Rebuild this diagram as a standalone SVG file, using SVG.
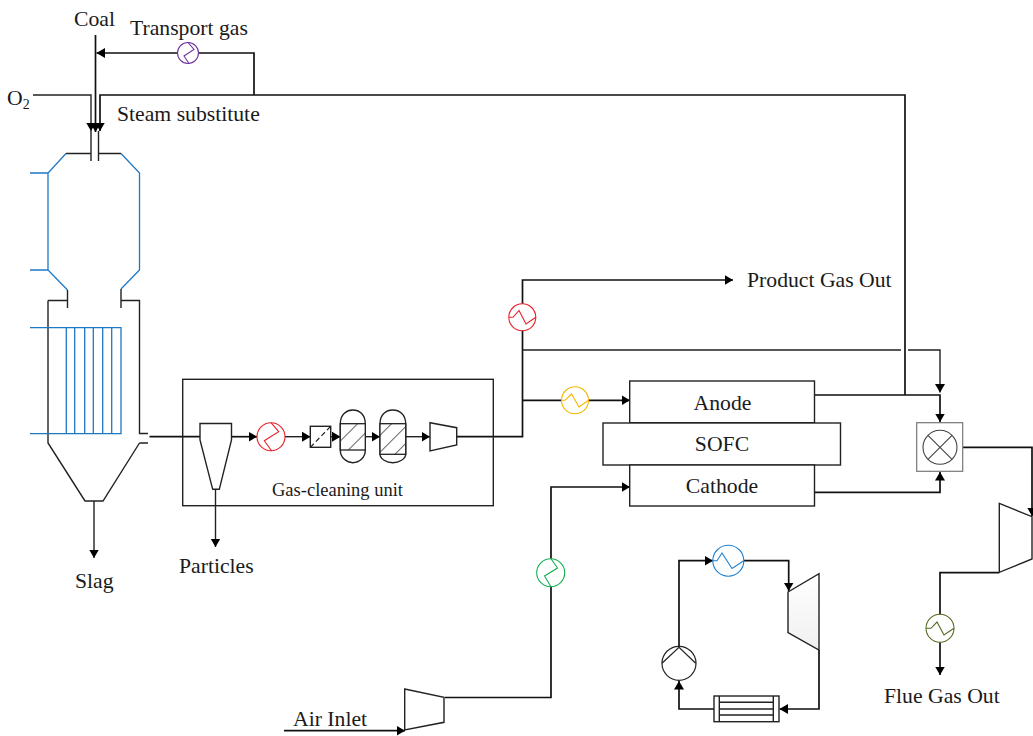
<svg xmlns="http://www.w3.org/2000/svg" width="1033" height="736" viewBox="0 0 1033 736">
<style>
text{font-family:"Liberation Serif","Times New Roman",serif;font-size:21.700px;fill:#1a1a1a}
.l{fill:none;stroke:#111;stroke-width:1.7}
.t{fill:none;stroke:#444;stroke-width:1.100}
.b{fill:none;stroke:#1f78c4;stroke-width:1.300}
.k{fill:none;stroke:#222;stroke-width:1.400}
.w{fill:#fff;stroke:#222;stroke-width:1.400}
.h{stroke-width:1.100}
</style>
<defs>
<marker id="arr" markerUnits="userSpaceOnUse" markerWidth="10" markerHeight="11" refX="8.500" refY="5" orient="auto"><path d="M0,0L8.500,5L0,10Z" fill="#000"/></marker>
<linearGradient id="tg" x1="0" y1="0" x2="0" y2="1"><stop offset="0" stop-color="#fff"/><stop offset="1" stop-color="#f0f0f0"/></linearGradient>
<pattern id="h1" patternUnits="userSpaceOnUse" width="12" height="12" patternTransform="rotate(45)"><rect width="12" height="12" fill="#fff"/><line x1="0" y1="0" x2="0" y2="12" stroke="#555" stroke-width="1.800"/></pattern>
</defs>
<g id="connectors">
<path class="l" d="M95.500 35V132" marker-end="url(#arr)"/>
<path class="l" d="M254 95V53H96.500" marker-end="url(#arr)"/>
<path class="l" d="M905 395V95H100V131" marker-end="url(#arr)"/>
<path class="k" d="M33 95H91V131" marker-end="url(#arr)"/>
<path class="l" d="M149.500 436.700H200"/>
<path class="l" d="M231.500 436.700H257" marker-end="url(#arr)"/>
<path class="k" d="M285 436.700H310.500" marker-end="url(#arr)"/>
<path class="k" d="M331 436.700H340.500" marker-end="url(#arr)"/>
<path class="k" d="M365.500 436.700H380" marker-end="url(#arr)"/>
<path class="k" d="M406 436.700H430" marker-end="url(#arr)"/>
<path class="l" d="M457 436.700H522.500V280H733" marker-end="url(#arr)"/>
<path class="k" d="M522.500 350H901M908 350H940V392.500" marker-end="url(#arr)"/>
<path class="l" d="M522.500 400.300H630" marker-end="url(#arr)"/>
<path class="l" d="M814.500 395H940V422" marker-end="url(#arr)"/>
<path class="l" d="M814.500 492.300H940V472" marker-end="url(#arr)"/>
<path class="l" d="M963 447.300H1032V516" marker-end="url(#arr)"/>
<path class="l" d="M999.300 572.700H940V675" marker-end="url(#arr)"/>
<path class="l" d="M445 697.500H551V487H630" marker-end="url(#arr)"/>
<path class="l" d="M284 730.700H405" marker-end="url(#arr)"/>
<path class="l" d="M679 648V560.700H713" marker-end="url(#arr)"/>
<path class="l" d="M744 560.700H788.700V591" marker-end="url(#arr)"/>
<path class="l" d="M819 650V709H779.500" marker-end="url(#arr)"/>
<path class="l" d="M714 709H679V681" marker-end="url(#arr)"/>
<path class="k" d="M94 501V558" marker-end="url(#arr)"/>
<path class="k" d="M215.500 489.500V547" marker-end="url(#arr)"/>
</g>
<g id="gasifier">
<path class="k" d="M91 131V161M98.500 131V161M66 153.500H91M98.500 153.500H121"/>
<path class="b" d="M66 153.500L48 173V270L67.500 290M121 153.500L139.500 173V270L121 289M30 173H48M30 270H48"/>
<path class="k" d="M67.500 290V308M121 289V308M48 300.500H67.500M121 300.500H139.500V433.500H148M139.500 443H148M48 300.500V443L85 501H103L139.500 443"/>
<path class="b" d="M30 327.700H121V433.700H30M66.300 327.700V433.700M74.700 327.700V433.700M84.700 327.700V433.700M93.300 327.700V433.700M102.700 327.700V433.700M111.700 327.700V433.700"/>
</g>
<g id="gas-cleaning-unit">
<rect class="k" x="182.700" y="379.300" width="310.600" height="126.400"/>
<text x="272" y="495.500" style="font-size:18.500px">Gas-cleaning unit</text>
</g>
<g id="cyclone"><path class="w" d="M200 423.500H231.500V440L219.300 489.300H212.700L200 440Z"/></g>
<g id="heater-cleaning"><circle class="h" cx="271" cy="436.700" r="14" fill="#fff" stroke="#e8202a"/><path class="h" d="M271 422.700L278.700 431.700L264.300 440.700L271.700 451" fill="none" stroke="#e8202a"/></g>
<g id="filter"><rect class="w" x="310.300" y="426.300" width="20.400" height="21"/><path d="M310.300 447.300L330.700 426.300" stroke="#222" stroke-width="1.200" stroke-dasharray="5 3"/></g>
<g id="vessel-1"><path class="w" d="M340.300 423.700C340.300 414 347 410 352.800 410C359 410 365.300 414 365.300 423.700V450C365.300 458 359 462.700 352.800 462.700C347 462.700 340.300 458 340.300 450Z"/><rect x="340.300" y="423.700" width="25" height="26.300" fill="url(#h1)" stroke="#222" stroke-width="1.300"/></g>
<g id="vessel-2"><path class="w" d="M380 423.700C380 414 386.500 410 392.800 410C399 410 405.700 414 405.700 423.700V454.300C405.700 459 399 462.700 392.800 462.700C386.500 462.700 380 459 380 454.300Z"/><rect x="380" y="423.700" width="25.700" height="30.600" fill="url(#h1)" stroke="#222" stroke-width="1.300"/></g>
<g id="compressor-cleaning"><path class="w" d="M430 422.700L456.700 427.700V445L430 451Z"/></g>
<g id="cooler-product"><circle class="h" cx="522.300" cy="317.300" r="13.500" fill="#fff" stroke="#e8202a"/><path class="h" d="M509 317.300H513L519 310.500L526 324L535.800 317.300" fill="none" stroke="#e8202a"/></g>
<g id="heater-anode"><circle class="h" cx="575" cy="400.300" r="13.500" fill="#fff" stroke="#f5b800"/><path class="h" d="M561.500 400.300H565L571.500 394L579 407L588.500 400.300" fill="none" stroke="#f5b800"/></g>
<g id="heater-transport"><circle class="h" cx="188" cy="53" r="10.500" fill="#fff" stroke="#7030a0"/><path class="h" d="M188 42.500L194 49.500L184 56L189 63.500" fill="none" stroke="#7030a0"/></g>
<g id="anode"><rect class="w" x="629.700" y="381" width="184.800" height="41.700"/><text x="722.500" y="409.500" text-anchor="middle">Anode</text></g>
<g id="sofc"><rect class="w" x="603" y="423" width="237.500" height="42"/><text x="722" y="451" text-anchor="middle">SOFC</text></g>
<g id="cathode"><rect class="w" x="629.700" y="465" width="184.800" height="41"/><text x="722" y="492.500" text-anchor="middle">Cathode</text></g>
<g id="mixer"><rect x="916.700" y="422.700" width="46" height="48.600" fill="#fff" stroke="#777" stroke-width="1.200"/><circle class="t" cx="940" cy="447.300" r="17"/><path class="t" d="M928 435.300L952 459.300M952 435.300L928 459.300"/></g>
<g id="turbine-flue"><path class="w" d="M999.300 503.300L1032 516.700V559L999.300 572.300Z"/></g>
<g id="cooler-flue"><circle class="h" cx="940" cy="628.300" r="14" fill="#fff" stroke="#546b1f"/><path class="h" d="M926 628.300H931L937 622L944 635L954 628.300" fill="none" stroke="#546b1f"/></g>
<g id="heater-air"><circle class="h" cx="550.700" cy="572.700" r="14" fill="#fff" stroke="#10b050"/><path class="h" d="M551 558.700L557.500 568L544.500 576L551 586.700" fill="none" stroke="#10b050"/></g>
<g id="compressor-air"><path class="w" d="M404.700 689L444 697.300V722.300L404.700 730Z"/></g>
<g id="heater-loop"><circle class="h" cx="728.300" cy="560.700" r="15.500" fill="#fff" stroke="#1f82d0"/><path class="h" d="M713 560.700H717L722 553L732 568.500L743.800 560.700" fill="none" stroke="#1f82d0"/></g>
<g id="turbine-loop"><path d="M788 592L819 573.700V650L788 632.700Z" fill="url(#tg)" stroke="#222" stroke-width="1.400"/></g>
<g id="pump"><circle cx="679" cy="663.300" r="17" fill="#fff" stroke="#222" stroke-width="1.200"/><path d="M662 663.300L679 647.300L695.700 663.300" fill="none" stroke="#222" stroke-width="1.200"/></g>
<g id="condenser"><rect class="w" x="714" y="696" width="65" height="25.700"/><path class="k" d="M719.300 696V721.700M773.300 696V721.700M719.300 702.300H773.300M719.300 709H773.300M719.300 715H773.300"/></g>
<g id="labels">
<text x="74" y="26">Coal</text>
<text x="130" y="35">Transport gas</text>
<text x="7" y="105">O<tspan dy="4" style="font-size:14px">2</tspan></text>
<text x="117" y="121">Steam substitute</text>
<text x="75" y="588">Slag</text>
<text x="179" y="573">Particles</text>
<text x="747" y="287">Product Gas Out</text>
<text x="884" y="703">Flue Gas Out</text>
<text x="293" y="726">Air Inlet</text>
</g>
</svg>
